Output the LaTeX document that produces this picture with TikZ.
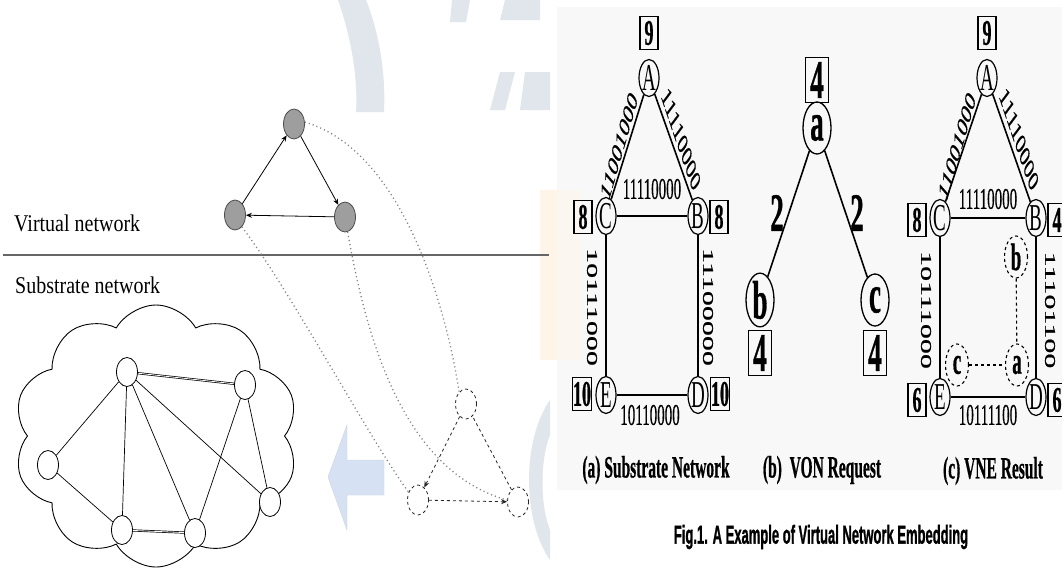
\documentclass[tikz,border=0pt]{standalone}
\usepackage{fontspec}
\setmainfont{Liberation Serif}[BoldFeatures={FakeBold=1}]
\newfontfamily\heavyserif[FakeBold=0.6]{Liberation Serif}
\newfontfamily\capsans[BoldFeatures={FakeBold=1.5}]{Liberation Sans}
\usepackage{graphicx}
\usetikzlibrary{shapes.geometric,shapes.symbols,arrows.meta}
\newcommand{\vs}[1]{\scalebox{1}[2]{#1}}
\newcommand{\ls}[1]{\scalebox{1}[1.2]{#1}}
\newcommand{\fsz}[1]{\fontsize{#1}{#1}\selectfont}
\definecolor{wmgray}{HTML}{E0E6EB}
\definecolor{wmpeach}{HTML}{FEF5E8}
\definecolor{arrowblue}{HTML}{D6E2F3}
\definecolor{panelbg}{HTML}{F8F8F8}
\begin{document}
\begin{tikzpicture}[x=1pt,y=-1pt,
  vnode/.style={ellipse, draw=black!70, fill=black!38, line width=0.8pt, minimum width=21pt, minimum height=30pt, inner sep=0pt},
  snode/.style={ellipse, draw=black, fill=white, line width=0.8pt, minimum width=21pt, minimum height=29pt, inner sep=0pt},
  gnode/.style={ellipse, draw=black!85, dashed, line width=0.8pt, minimum width=21pt, minimum height=30pt, inner sep=0pt},
  varrow/.style={-{Stealth[length=6pt,width=5pt]}, line width=0.8pt},
  garrow/.style={-{Stealth[length=6pt,width=5pt]}, dashed, line width=0.8pt, black!85},
  dotcurve/.style={black!50, line width=1.3pt, dash pattern=on 1.1pt off 3pt},
  sedge/.style={line width=0.7pt},
  pnode/.style={ellipse, draw=black, line width=1.2pt, minimum width=20pt, minimum height=37pt, inner sep=0pt, font=\fsz{19}},
  pbox/.style={rectangle, draw=black, line width=1.1pt, minimum width=18pt, minimum height=33pt, inner sep=0.5pt, font=\fsz{18}\bfseries},
  bnode/.style={ellipse, draw=black, line width=1.3pt, minimum width=28pt, minimum height=52pt, inner sep=0pt, font=\fsz{27}\bfseries},
  bbox/.style={rectangle, draw=black, line width=1.2pt, minimum width=23pt, minimum height=45pt, inner sep=0pt, font=\fsz{27}\bfseries},
  dnode/.style={ellipse, draw=black, dashed, line width=1.1pt, minimum width=23pt, minimum height=42pt, inner sep=0pt, font=\fsz{19}\bfseries},
  elab/.style={inner sep=0pt, font=\heavyserif\fsz{15}},
  thinedge/.style={line width=1.6pt},
  thickedge/.style={line width=2.8pt},
  capt/.style={inner sep=0pt, font=\fsz{15.5}\bfseries},
  ltext/.style={inner sep=0pt, anchor=west, font=\fsz{20}}
]
\useasboundingbox (0,0) rectangle (1062,571);
\clip (0,0) rectangle (1062,571);
\fill[white] (0,0) rectangle (1062,571);
% faint watermark
\fill[wmgray] (338,0) .. controls (352,40) and (358,80) .. (356,112) -- (384,112) .. controls (386,70) and (378,30) .. (366,0) -- cycle;
\fill[wmgray] (452,0) -- (470,0) -- (466,22) -- (450,22) -- cycle;
\fill[wmgray] (505,0) -- (540,0) -- (540,20) -- (500,20) -- cycle;
\fill[wmgray] (500,72) -- (515,72) -- (505,110) -- (490,110) -- cycle;
\fill[wmgray] (525,72) -- (550,72) -- (550,110) -- (520,110) -- cycle;
\fill[wmgray] (550,400) .. controls (522,440) and (522,520) .. (550,560) -- (550,530) .. controls (540,505) and (540,460) .. (550,435) -- cycle;
\fill[wmpeach] (540,190) rectangle (578,360);
% right panel background
\fill[panelbg] (557,7) rectangle (1062,490);
\fill[wmpeach, opacity=0.5] (557,190) rectangle (580,360);

% ---------------- left part ----------------
\node[ltext] (vtxt) at (14,223) {\ls{Virtual network}};
\node[ltext] (stxt) at (15,285) {\ls{Substrate network}};
\coordinate (sepl) at (3,255);
\coordinate (sepr) at (549,255);
\draw[line width=2.6pt, black!60] (sepl) -- (sepr);

\node[vnode] (vt) at (294,124) {};
\node[vnode] (vl) at (235,215) {};
\node[vnode] (vr) at (345,217) {};
\draw[varrow] (vl) -- (vt);
\draw[varrow] (vt) -- (vr);
\draw[varrow] (vr) -- (vl);

\node[cloud, draw=black, line width=0.9pt, cloud puffs=10, cloud puff arc=120, aspect=1.1, minimum width=285pt, minimum height=262pt, inner sep=0pt] (cl) at (156,436) {};
\node[snode] (n1) at (127,372) {};
\node[snode] (n2) at (245,385) {};
\node[snode] (n3) at (48,465) {};
\node[snode] (n4) at (122,530) {};
\node[snode] (n5) at (195,533) {};
\node[snode] (n6) at (270,502) {};
\draw[sedge, double, double distance=0.8pt] (n1) -- (n2);
\draw[sedge] (n1) -- (n3);
\draw[sedge] (n1) -- (n4);
\draw[sedge] (n1) -- (n5);
\draw[sedge] (n1) -- (n6);
\draw[sedge] (n3) -- (n4);
\draw[sedge, double, double distance=0.8pt] (n4) -- (n5);
\draw[sedge] (n5) -- (n2);
\draw[sedge] (n2) -- (n6);

\draw[fill=arrowblue, draw=arrowblue!80!black!60] (328,477) -- (347,425) -- (347,460) -- (384,460) -- (384,495) -- (347,495) -- (347,530) -- cycle;

\node[gnode] (gt) at (466,404) {};
\node[gnode] (gl) at (418,500) {};
\node[gnode] (gr) at (518,502) {};
\draw[garrow] (gt) -- (gl);
\draw[garrow] (gl) -- (gr);
\draw[dashed, line width=0.8pt, black!85] (gr) -- (gt);

\draw[dotcurve] (vt.10) .. controls (400,150) and (445,300) .. (gt.120);
\draw[dotcurve] (vl.-60) .. controls (290,290) and (370,440) .. (gl.140);
\draw[dotcurve] (vr.-80) .. controls (365,330) and (400,470) .. (gr.170);

% ---------------- (a) substrate network ----------------
\node[pnode] (aA) at (649,78) {\vs{A}};
\node[pnode] (aC) at (606,216) {\vs{C}};
\node[pnode] (aB) at (698,216) {\vs{B}};
\node[pnode] (aE) at (606,395) {\vs{E}};
\node[pnode] (aD) at (698,395) {\vs{D}};
\node[pbox] (aAw) at (649,33) {\vs{9}};
\node[pbox] (aCw) at (583,217) {\vs{8}};
\node[pbox] (aBw) at (719,217) {\vs{8}};
\node[pbox] (aEw) at (582,394) {\vs{10}};
\node[pbox] (aDw) at (720,394) {\vs{10}};
\draw[thinedge] (aA) -- (aC);
\draw[thinedge] (aA) -- (aB);
\draw[thickedge] (aC) -- (aB);
\draw[thinedge] (aC) -- (aE);
\draw[thinedge] (aB) -- (aD);
\draw[thickedge] (aE) -- (aD);
\node[elab] (aACl) at (619,146) {\vs{\rotatebox{60}{11001000}}};
\node[elab] (aABl) at (681,139) {\vs{\rotatebox{-56}{11110000}}};
\node[elab] (aCBl) at (652,189) {\vs{11110000}};
\node[elab] (aCEl) at (592,307) {\vs{\rotatebox{-90}{10111000}}};
\node[elab] (aBDl) at (708,307) {\vs{\rotatebox{-90}{11100000}}};
\node[elab] (aEDl) at (650,415) {\vs{10110000}};
\node[capt] (capa) at (656,470) {\vs{(a) Substrate Network}};

% ---------------- (b) VON request ----------------
\node[bnode] (ba) at (817,128) {\vs{a}};
\node[bnode] (bb) at (760,300) {\vs{b}};
\node[bnode] (bc) at (875,300) {\vs{c}};
\node[bbox] (baw) at (817,80) {\vs{4}};
\node[bbox] (bbw) at (760,353) {\vs{4}};
\node[bbox] (bcw) at (875,353) {\vs{4}};
\draw[thinedge] (ba) -- (bb);
\draw[thinedge] (ba) -- (bc);
\node[inner sep=0pt, font=\fsz{27}\bfseries] (bl1) at (777,213) {\vs{2}};
\node[inner sep=0pt, font=\fsz{27}\bfseries] (bl2) at (857,213) {\vs{2}};
\node[capt] (capb) at (822,470) {\vs{(b)\ \ VON Request}};

% ---------------- (c) VNE result ----------------
\node[pnode] (cA) at (987,78) {\vs{A}};
\node[pnode] (cC) at (940,218) {\vs{C}};
\node[pnode] (cB) at (1036,218) {\vs{B}};
\node[pnode] (cE) at (940,397) {\vs{E}};
\node[pnode] (cD) at (1036,397) {\vs{D}};
\node[pbox] (cAw) at (987,33) {\vs{9}};
\node[pbox] (cCw) at (917,220) {\vs{8}};
\node[pbox] (cBw) at (1057,220) {\vs{4}};
\node[pbox] (cEw) at (917,400) {\vs{6}};
\node[pbox] (cDw) at (1057,400) {\vs{6}};
\draw[thinedge] (cA) -- (cC);
\draw[thinedge] (cA) -- (cB);
\draw[thickedge] (cC) -- (cB);
\draw[thinedge] (cC) -- (cE);
\draw[thinedge] (cB) -- (cD);
\draw[thickedge] (cE) -- (cD);
\node[elab] (cACl) at (957,146) {\vs{\rotatebox{60}{11001000}}};
\node[elab] (cABl) at (1019,139) {\vs{\rotatebox{-56}{11110000}}};
\node[elab] (cCBl) at (988,199) {\vs{11110000}};
\node[elab] (cCEl) at (926,310) {\vs{\rotatebox{-90}{10111000}}};
\node[elab] (cBDl) at (1050,310) {\vs{\rotatebox{-90}{11101100}}};
\node[elab] (cEDl) at (988,415) {\vs{10111100}};
\node[dnode] (cvb) at (1016,257) {\vs{b}};
\node[dnode] (cvc) at (957,365) {\vs{c}};
\node[dnode] (cva) at (1017,365) {\vs{a}};
\draw[dashed, line width=1.1pt] (cvb) -- (cva);
\draw[dashed, line width=1.1pt] (cvc) -- (cva);
\node[capt] (capc) at (993,471) {\vs{(c) VNE Result}};

\node[inner sep=0pt, font=\capsans\bfseries\fsz{13}] (fig) at (821,537) {\vs{Fig.1. A Example of Virtual Network Embedding}};
\end{tikzpicture}
\end{document}
